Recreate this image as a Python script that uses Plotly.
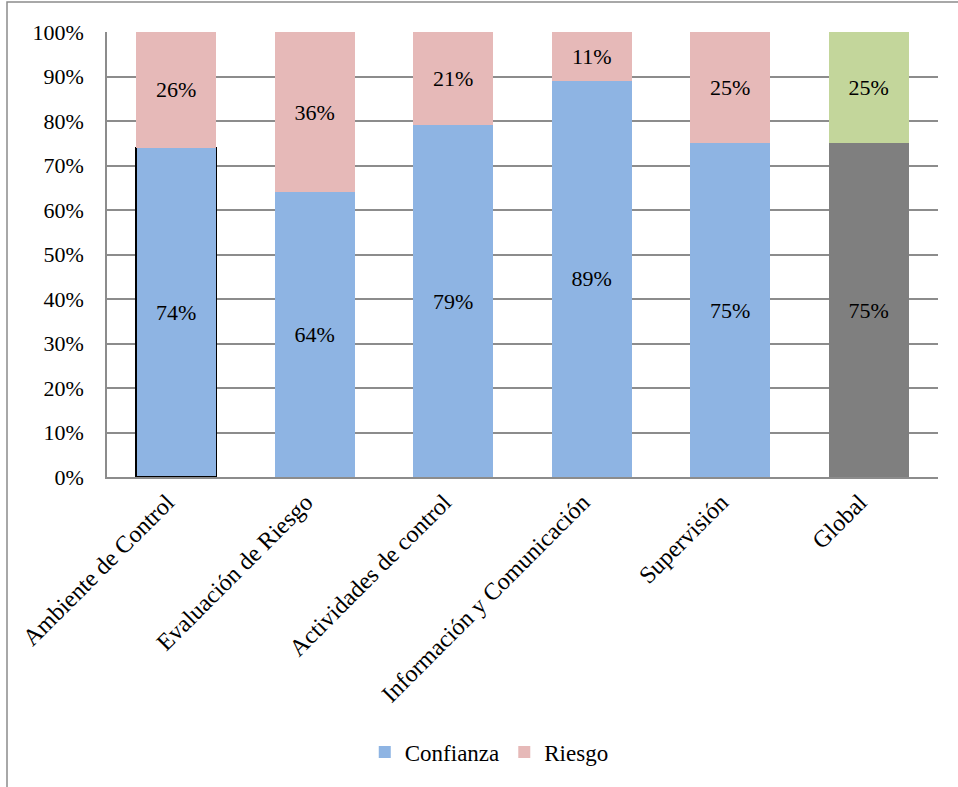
import plotly.graph_objects as go

categories = ["Ambiente de Control", "Evaluación de Riesgo", "Actividades de control",
              "Información y Comunicación", "Supervisión", "Global"]
confianza = [74, 64, 79, 89, 75, 75]
riesgo = [26, 36, 21, 11, 25, 25]
tick_vals = [0, 10, 20, 30, 40, 50, 60, 70, 80, 90, 100]
tick_text = [f"{v}%" for v in tick_vals]

BLUE = "#8EB4E3"
PINK = "#E6B9B8"
GRAY = "#7F7F7F"
GREEN = "#C3D69B"
FONT = "Liberation Serif"

conf_colors = [BLUE] * 5 + [GRAY]
risk_colors = [PINK] * 5 + [GREEN]
conf_line_w = [1.5] + [0] * 5

fig = go.Figure()
fig.add_trace(go.Bar(
    x=categories, y=confianza, name="Confianza", showlegend=False,
    marker=dict(color=conf_colors, line=dict(color="black", width=conf_line_w)),
    text=[f"{v}%" for v in confianza], textposition="inside", insidetextanchor="middle",
    textfont=dict(family=FONT, size=22, color="black"), textangle=0,
))
fig.add_trace(go.Bar(
    x=categories, y=riesgo, name="Riesgo", showlegend=False,
    marker=dict(color=risk_colors, line=dict(width=0)),
    text=[f"{v}%" for v in riesgo], textposition="inside", insidetextanchor="middle",
    textfont=dict(family=FONT, size=22, color="black"), textangle=0,
))
# legend entries
fig.add_trace(go.Bar(x=[None], y=[None], name="Confianza", marker=dict(color=BLUE, line=dict(width=0))))
fig.add_trace(go.Bar(x=[None], y=[None], name="Riesgo", marker=dict(color=PINK, line=dict(width=0))))

fig.update_layout(
    barmode="stack",
    bargap=0.42,
    width=958, height=787,
    margin=dict(l=107, r=20, t=32, b=310),
    paper_bgcolor="white", plot_bgcolor="white",
    font=dict(family=FONT, size=22, color="black"),
    showlegend=True,
    legend=dict(orientation="h", x=0.46, xanchor="center", y=-0.618, yanchor="middle",
                font=dict(family=FONT, size=23, color="black"), itemwidth=30,
                traceorder="normal"),
    xaxis=dict(type="category", tickangle=-45, showline=True, linecolor="#8C8C8C", linewidth=1.5,
               showgrid=False, ticks="", ticklabelshift=-9, tickfont=dict(family=FONT, size=24)),
    yaxis=dict(range=[0, 100], tickvals=tick_vals, ticktext=tick_text, showgrid=True,
               gridcolor="#8C8C8C", gridwidth=1.5, showline=True, linecolor="#8C8C8C", linewidth=1.5,
               zeroline=False, ticks="", ticklabelstandoff=17, tickfont=dict(family=FONT, size=22)),
    shapes=[dict(type="rect", xref="paper", yref="paper",
                 x0=(7 - 107) / 831, x1=(962 - 107) / 831,
                 y0=(477 - 792) / 445, y1=(477 - 2) / 445,
                 line=dict(color="#8C8C8C", width=1.5), fillcolor="rgba(0,0,0,0)", layer="below")],
)
fig.write_html("out.html")
